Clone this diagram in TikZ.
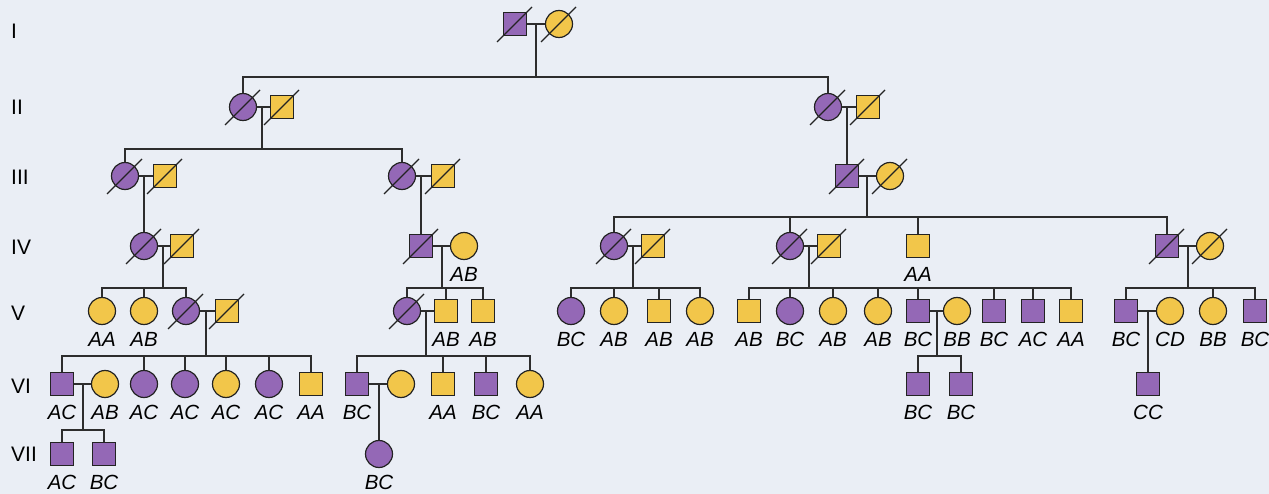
\documentclass[tikz,border=0pt]{standalone}
\usepackage{fontspec}
\setmainfont{Liberation Sans}
\usetikzlibrary{calc}
\definecolor{purp}{RGB}{148,104,182}
\definecolor{yel}{RGB}{242,198,74}
\definecolor{outl}{RGB}{35,35,35}
\definecolor{bgc}{RGB}{234,238,245}
\definecolor{lnc}{RGB}{45,45,45}
\newcommand\deadmark[1]{\draw[slash] ($(#1.center)+(-18,18)$) -- ($(#1.center)+(17,-17)$);}
\newcommand\geno[2]{\node[lab] (#1g) at ($(#1.center)+(0,28)$) {#2};}
\newcommand\sibs[2]{\foreach \c in {#2} {\draw[conn] (#1) -| (\c.north);}}
\begin{document}
\begin{tikzpicture}[x=1pt,y=-1pt,
  sq/.style={rectangle, draw=outl, line width=1.2pt, minimum size=23pt, inner sep=0pt},
  ci/.style={circle, draw=outl, line width=1.2pt, minimum size=27pt, inner sep=0pt},
  aff/.style={fill=purp}, una/.style={fill=yel},
  conn/.style={draw=lnc, line width=1.5pt},
  slash/.style={draw=outl, line width=1.2pt},
  lab/.style={font=\fontsize{20.5}{21}\selectfont\itshape, inner sep=0pt, anchor=center},
  gen/.style={font=\fontsize{21}{21}\selectfont, inner sep=0pt, anchor=west}]
\fill[bgc] (0,0) rectangle (1269,494);
\useasboundingbox (0,0) rectangle (1269,494);

% generation labels
\node[gen] (gI) at (11,31) {I};
\node[gen] (gII) at (11,107) {II};
\node[gen] (gIII) at (11,177) {III};
\node[gen] (gIV) at (11,247) {IV};
\node[gen] (gV) at (11,313) {V};
\node[gen] (gVI) at (11,386) {VI};
\node[gen] (gVII) at (11,454) {VII};

% Row I
\node[sq,aff] (I1) at (515,24) {};
\node[ci,una] (I2) at (559,24) {};
% Row II
\node[ci,aff] (II1) at (243,107) {};
\node[sq,una] (II2) at (282,107) {};
\node[ci,aff] (II3) at (828,107) {};
\node[sq,una] (II4) at (868,107) {};
% Row III
\node[ci,aff] (III1) at (125,176) {};
\node[sq,una] (III2) at (165,176) {};
\node[ci,aff] (III3) at (402,176) {};
\node[sq,una] (III4) at (443,176) {};
\node[sq,aff] (III5) at (847,176) {};
\node[ci,una] (III6) at (890,176) {};
% Row IV
\node[ci,aff] (IV1) at (144,246) {};
\node[sq,una] (IV2) at (182,246) {};
\node[sq,aff] (IV3) at (421,246) {};
\node[ci,una] (IV4) at (464,246) {};
\node[ci,aff] (IV5) at (614,246) {};
\node[sq,una] (IV6) at (653,246) {};
\node[ci,aff] (IV7) at (790,246) {};
\node[sq,una] (IV8) at (829,246) {};
\node[sq,una] (IV9) at (918,246) {};
\node[sq,aff] (IV10) at (1167,246) {};
\node[ci,una] (IV11) at (1210,246) {};
% Row V
\node[ci,una] (V1) at (102,311) {};
\node[ci,una] (V2) at (144,311) {};
\node[ci,aff] (V3) at (186,311) {};
\node[sq,una] (V4) at (227,311) {};
\node[ci,aff] (V5) at (407,311) {};
\node[sq,una] (V6) at (446,311) {};
\node[sq,una] (V7) at (483,311) {};
\node[ci,aff] (V8) at (571,311) {};
\node[ci,una] (V9) at (614,311) {};
\node[sq,una] (V10) at (659,311) {};
\node[ci,una] (V11) at (700,311) {};
\node[sq,una] (V12) at (749,311) {};
\node[ci,aff] (V13) at (790,311) {};
\node[ci,una] (V14) at (833,311) {};
\node[ci,una] (V15) at (878,311) {};
\node[sq,aff] (V16) at (918,311) {};
\node[ci,una] (V17) at (957,311) {};
\node[sq,aff] (V18) at (994,311) {};
\node[sq,aff] (V19) at (1033,311) {};
\node[sq,una] (V20) at (1071,311) {};
\node[sq,aff] (V21) at (1126,311) {};
\node[ci,una] (V22) at (1170,311) {};
\node[ci,una] (V23) at (1213,311) {};
\node[sq,aff] (V24) at (1255,311) {};
% Row VI
\node[sq,aff] (VI1) at (62,384) {};
\node[ci,una] (VI2) at (105,384) {};
\node[ci,aff] (VI3) at (144,384) {};
\node[ci,aff] (VI4) at (185,384) {};
\node[ci,una] (VI5) at (226,384) {};
\node[ci,aff] (VI6) at (269,384) {};
\node[sq,una] (VI7) at (311,384) {};
\node[sq,aff] (VI8) at (357,384) {};
\node[ci,una] (VI9) at (401,384) {};
\node[sq,una] (VI10) at (443,384) {};
\node[sq,aff] (VI11) at (486,384) {};
\node[ci,una] (VI12) at (530,384) {};
\node[sq,aff] (VI13) at (918,384) {};
\node[sq,aff] (VI14) at (961,384) {};
\node[sq,aff] (VI15) at (1148,384) {};
% Row VII
\node[sq,aff] (VII1) at (62,454) {};
\node[sq,aff] (VII2) at (104,454) {};
\node[ci,aff] (VII3) at (379,454) {};

% deceased
\foreach \n in {I1,I2,II1,II2,II3,II4,III1,III2,III3,III4,III5,III6,IV1,IV2,IV3,IV5,IV6,IV7,IV8,IV10,IV11,V3,V4,V5}{\deadmark{\n}}

% couples
\foreach \a/\b in {I1/I2,II1/II2,II3/II4,III1/III2,III3/III4,III5/III6,IV1/IV2,IV3/IV4,IV5/IV6,IV7/IV8,IV10/IV11,V3/V4,V5/V6,V16/V17,V21/V22,VI1/VI2,VI8/VI9}{\draw[conn] (\a.east) -- (\b.west);}

% descents and sibships
\coordinate (dI) at (536,24);   \coordinate (sI) at (536,77);
\draw[conn] (dI) -- (sI); \sibs{sI}{II1,II3}
\coordinate (dII1) at (262,107); \coordinate (sII1) at (262,149);
\draw[conn] (dII1) -- (sII1); \sibs{sII1}{III1,III3}
\coordinate (dII3) at (847,107); \draw[conn] (dII3) -- (III5.north);
\coordinate (dIII1) at (144,176); \draw[conn] (dIII1) -- (IV1.north);
\coordinate (dIII3) at (421,176); \draw[conn] (dIII3) -- (IV3.north);
\coordinate (dIII5) at (867,176); \coordinate (sIII5) at (867,217);
\draw[conn] (dIII5) -- (sIII5); \sibs{sIII5}{IV5,IV7,IV9,IV10}
\coordinate (dIV1) at (163,246); \coordinate (sIV1) at (163,288);
\draw[conn] (dIV1) -- (sIV1); \sibs{sIV1}{V1,V2,V3}
\coordinate (dIV3) at (442,246); \coordinate (sIV3) at (442,288);
\draw[conn] (dIV3) -- (sIV3); \sibs{sIV3}{V5,V6,V7}
\coordinate (dIV5) at (633,246); \coordinate (sIV5) at (633,288);
\draw[conn] (dIV5) -- (sIV5); \sibs{sIV5}{V8,V9,V10,V11}
\coordinate (dIV7) at (809,246); \coordinate (sIV7) at (809,288);
\draw[conn] (dIV7) -- (sIV7); \sibs{sIV7}{V12,V13,V14,V15,V16,V18,V19,V20}
\coordinate (dIV10) at (1188,246); \coordinate (sIV10) at (1188,288);
\draw[conn] (dIV10) -- (sIV10); \sibs{sIV10}{V21,V23,V24}
\coordinate (dV3) at (206,311); \coordinate (sV3) at (206,356);
\draw[conn] (dV3) -- (sV3); \sibs{sV3}{VI1,VI3,VI4,VI5,VI6,VI7}
\coordinate (dV5) at (426,311); \coordinate (sV5) at (426,356);
\draw[conn] (dV5) -- (sV5); \sibs{sV5}{VI8,VI10,VI11,VI12}
\coordinate (dV16) at (937,311); \coordinate (sV16) at (937,356);
\draw[conn] (dV16) -- (sV16); \sibs{sV16}{VI13,VI14}
\coordinate (dV21) at (1148,311); \draw[conn] (dV21) -- (VI15.north);
\coordinate (dVI1) at (83,384); \coordinate (sVI1) at (83,430);
\draw[conn] (dVI1) -- (sVI1); \sibs{sVI1}{VII1,VII2}
\coordinate (dVI8) at (379,384); \draw[conn] (dVI8) -- (VII3.north);

% genotypes
\geno{IV4}{AB} \geno{IV9}{AA}
\geno{V1}{AA} \geno{V2}{AB} \geno{V6}{AB} \geno{V7}{AB}
\geno{V8}{BC} \geno{V9}{AB} \geno{V10}{AB} \geno{V11}{AB}
\geno{V12}{AB} \geno{V13}{BC} \geno{V14}{AB} \geno{V15}{AB}
\geno{V16}{BC} \geno{V17}{BB} \geno{V18}{BC} \geno{V19}{AC} \geno{V20}{AA}
\geno{V21}{BC} \geno{V22}{CD} \geno{V23}{BB} \geno{V24}{BC}
\geno{VI1}{AC} \geno{VI2}{AB} \geno{VI3}{AC} \geno{VI4}{AC} \geno{VI5}{AC}
\geno{VI6}{AC} \geno{VI7}{AA} \geno{VI8}{BC} \geno{VI10}{AA} \geno{VI11}{BC}
\geno{VI12}{AA} \geno{VI13}{BC} \geno{VI14}{BC} \geno{VI15}{CC}
\geno{VII1}{AC} \geno{VII2}{BC} \geno{VII3}{BC}
\end{tikzpicture}
\end{document}
